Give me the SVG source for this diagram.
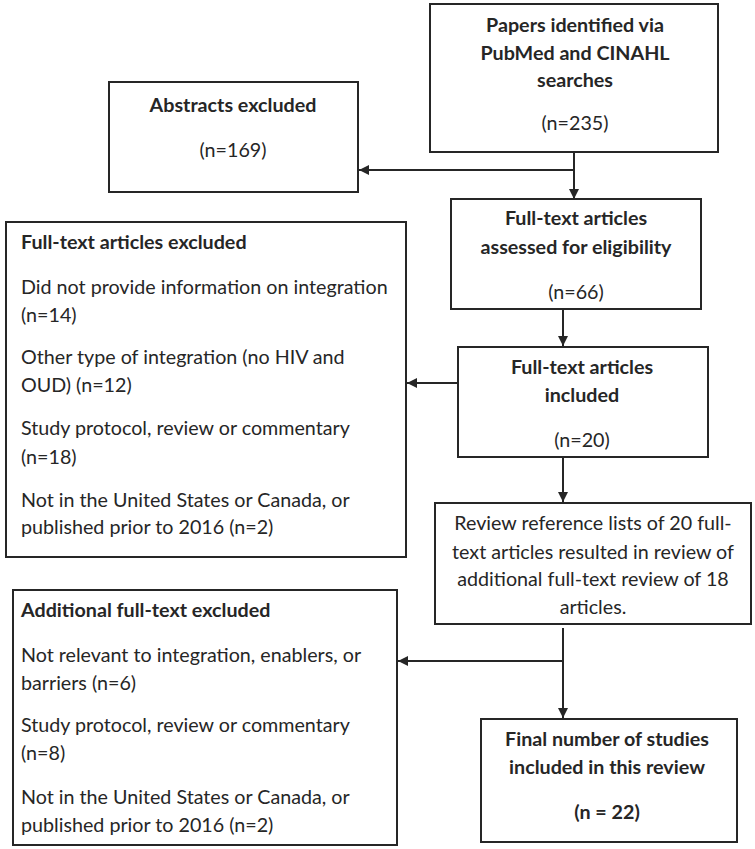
<svg xmlns="http://www.w3.org/2000/svg" width="755" height="849" viewBox="0 0 755 849">
<style>
.box{fill:#fff;stroke:#262626;stroke-width:2}
.t{font-family:Lato,"Liberation Sans",sans-serif;font-size:19.7px;fill:#262626}
.b{font-weight:bold}
.c{text-anchor:middle}
.ln{fill:none;stroke:#262626;stroke-width:2}
</style>
<defs>
<marker id="ah" viewBox="0 0 10 10" refX="10" refY="5" markerWidth="10" markerHeight="10" markerUnits="userSpaceOnUse" orient="auto">
<path d="M0,0 L10,5 L0,10 z" fill="#262626"/>
</marker>
</defs>
<rect width="755" height="849" fill="#fff"/>
<g id="connectors">
<line class="ln" x1="574" y1="152" x2="574" y2="199" marker-end="url(#ah)"/>
<line class="ln" x1="574" y1="170" x2="359" y2="170" marker-end="url(#ah)"/>
<line class="ln" x1="563" y1="309" x2="563" y2="346" marker-end="url(#ah)"/>
<line class="ln" x1="458" y1="383" x2="407" y2="383" marker-end="url(#ah)"/>
<line class="ln" x1="563" y1="457" x2="563" y2="502" marker-end="url(#ah)"/>
<line class="ln" x1="563" y1="628" x2="563" y2="718" marker-end="url(#ah)"/>
<line class="ln" x1="563" y1="661" x2="398" y2="661" marker-end="url(#ah)"/>
</g>
<g id="papers">
<rect class="box" x="430" y="4" width="288" height="148"/>
<text class="t b c" x="575" y="32">Papers identified via</text>
<text class="t b c" x="575" y="60">PubMed and CINAHL</text>
<text class="t b c" x="575" y="87">searches</text>
<text class="t c" x="575" y="130">(n=235)</text>
</g>
<g id="abstracts">
<rect class="box" x="109" y="82" width="249" height="110"/>
<text class="t b c" x="233" y="112">Abstracts excluded</text>
<text class="t c" x="233" y="157">(n=169)</text>
</g>
<g id="assessed">
<rect class="box" x="451" y="199" width="250" height="110"/>
<text class="t b c" x="576" y="225">Full-text articles</text>
<text class="t b c" x="576" y="254">assessed for eligibility</text>
<text class="t c" x="576" y="299">(n=66)</text>
</g>
<g id="included">
<rect class="box" x="458" y="347" width="250" height="110"/>
<text class="t b c" x="582" y="374">Full-text articles</text>
<text class="t b c" x="582" y="402">included</text>
<text class="t c" x="582" y="447">(n=20)</text>
</g>
<g id="fulltext-excluded">
<rect class="box" x="6" y="222" width="400" height="335"/>
<text class="t b" x="21" y="249">Full-text articles excluded</text>
<text class="t" x="21" y="294">Did not provide information on integration</text>
<text class="t" x="21" y="322">(n=14)</text>
<text class="t" x="21" y="364">Other type of integration (no HIV and</text>
<text class="t" x="21" y="392">OUD) (n=12)</text>
<text class="t" x="21" y="435">Study protocol, review or commentary</text>
<text class="t" x="21" y="464">(n=18)</text>
<text class="t" x="21" y="507">Not in the United States or Canada, or</text>
<text class="t" x="21" y="534">published prior to 2016 (n=2)</text>
</g>
<g id="review-refs">
<rect class="box" x="435" y="503" width="316" height="121"/>
<text class="t c" x="593" y="530">Review reference lists of 20 full-</text>
<text class="t c" x="593" y="559">text articles resulted in review of</text>
<text class="t c" x="593" y="586">additional full-text review of 18</text>
<text class="t c" x="593" y="614">articles.</text>
</g>
<g id="additional-excluded">
<rect class="box" x="13" y="590" width="384" height="255"/>
<text class="t b" x="21" y="617">Additional full-text excluded</text>
<text class="t" x="21" y="662">Not relevant to integration, enablers, or</text>
<text class="t" x="21" y="690">barriers (n=6)</text>
<text class="t" x="21" y="732">Study protocol, review or commentary</text>
<text class="t" x="21" y="760">(n=8)</text>
<text class="t" x="21" y="804">Not in the United States or Canada, or</text>
<text class="t" x="21" y="832">published prior to 2016 (n=2)</text>
</g>
<g id="final">
<rect class="box" x="481" y="719" width="256" height="123"/>
<text class="t b c" x="607" y="746">Final number of studies</text>
<text class="t b c" x="607" y="774">included in this review</text>
<text class="t b c" x="607" y="819">(n = 22)</text>
</g>
</svg>
